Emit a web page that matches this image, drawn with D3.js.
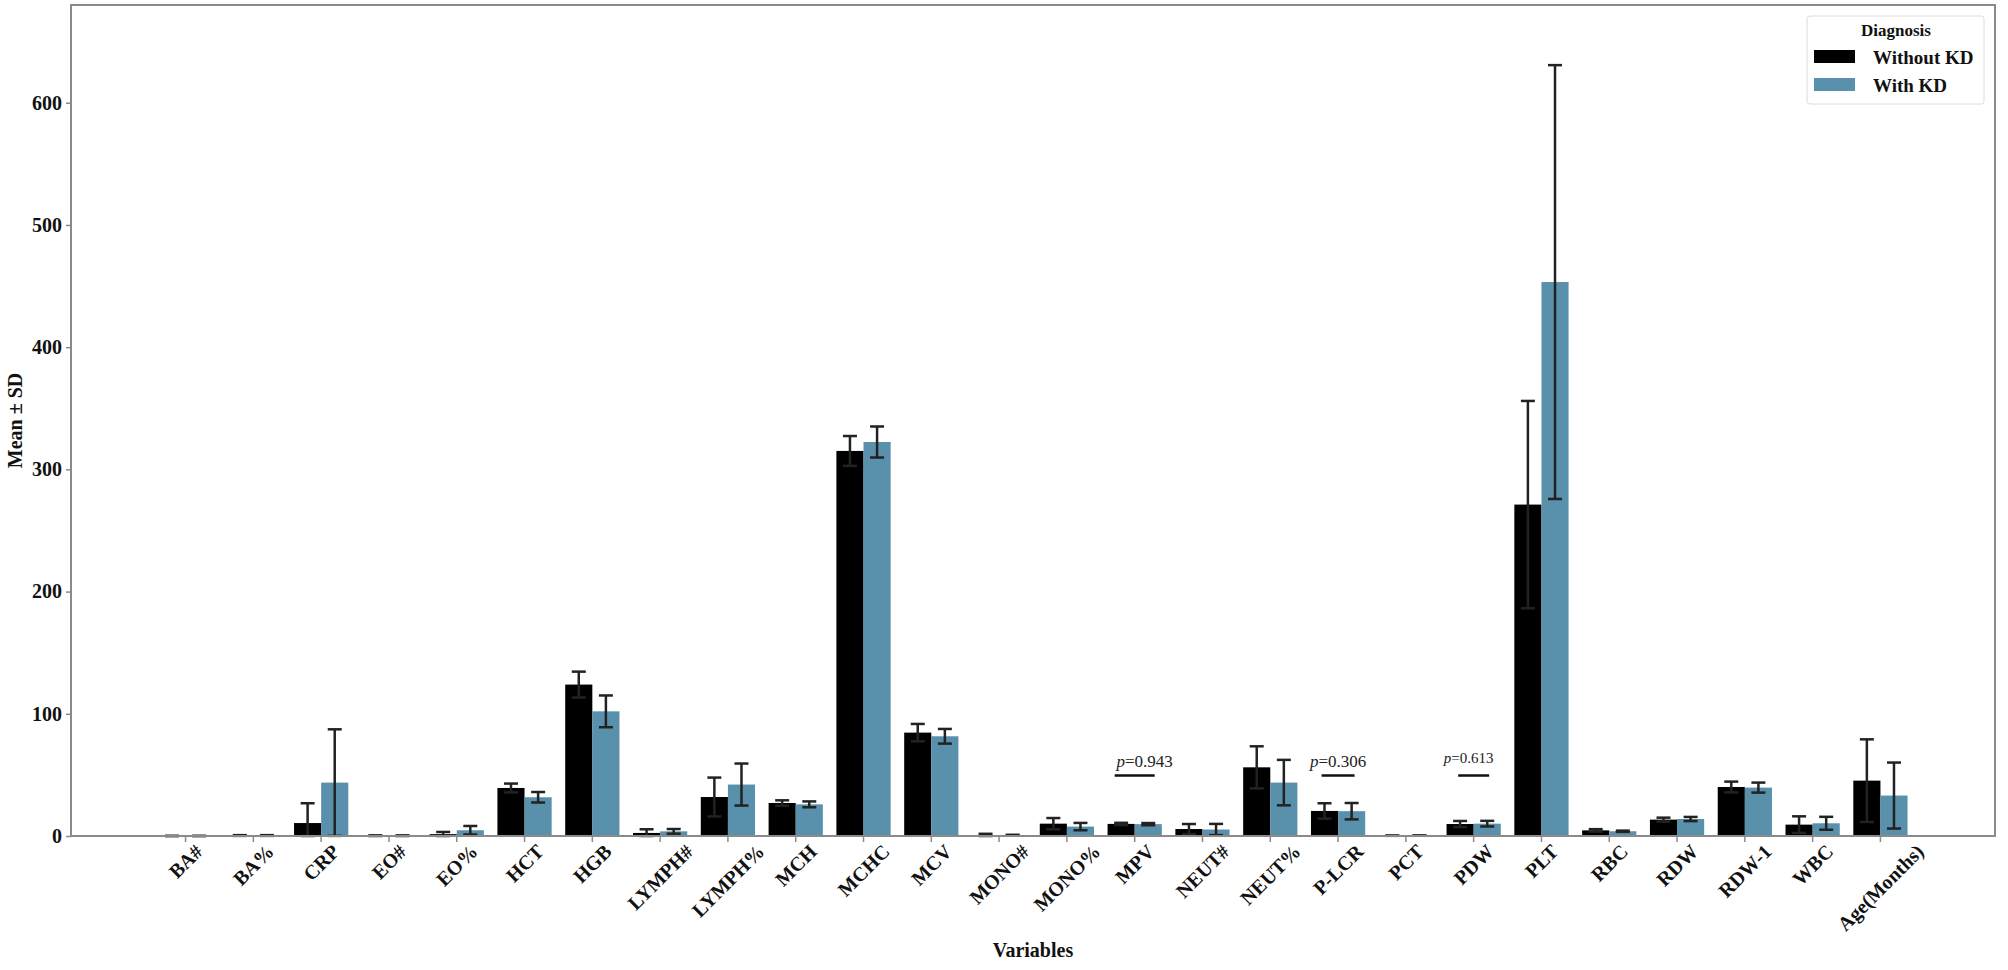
<!DOCTYPE html>
<html>
<head>
<meta charset="utf-8">
<script src="https://cdn.jsdelivr.net/npm/d3@7"></script>
<style>
  html, body { margin: 0; padding: 0; background: #fff; }
  svg { display: block; }
  text { font-family: "Liberation Serif", "Times New Roman", serif; }
</style>
</head>
<body>
<svg id="chart" width="2008" height="970"></svg>
<script>
// ---------------- data ----------------
const categories = ["BA#","BA%","CRP","EO#","EO%","HCT","HGB","LYMPH#","LYMPH%","MCH","MCHC","MCV",
  "MONO#","MONO%","MPV","NEUT#","NEUT%","P-LCR","PCT","PDW","PLT","RBC","RDW","RDW-1","WBC","Age(Months)"];
const seriesNames = ["Without KD", "With KD"];
const withoutKDMean = [0.03, 0.4, 10.6, 0.2, 1.5, 39.3, 123.9, 2.5, 31.9, 27.0, 315.1, 84.6,
  0.8, 10.1, 9.9, 5.7, 56.2, 20.5, 0.25, 9.8, 271.2, 4.6, 13.4, 40.1, 9.3, 45.3];
const withoutKDSD = [0.03, 0.3, 16.2, 0.3, 1.8, 3.6, 10.6, 3.0, 15.9, 2.2, 12.2, 7.1,
  1.0, 4.6, 0.9, 4.1, 17.2, 6.3, 0.1, 2.5, 84.8, 1.0, 1.6, 4.4, 6.8, 33.8];
const withKDMean = [0.03, 0.4, 43.7, 0.2, 4.7, 31.7, 102.0, 3.8, 42.1, 25.9, 322.4, 81.6,
  0.7, 7.7, 9.7, 5.3, 43.7, 20.3, 0.3, 10.1, 453.3, 3.9, 13.9, 39.6, 10.4, 33.1];
const withKDSD = [0.03, 0.3, 43.6, 0.3, 3.5, 4.3, 13.0, 1.9, 17.2, 2.4, 12.7, 6.0,
  0.3, 3.0, 0.9, 4.6, 18.6, 6.7, 0.1, 2.3, 177.5, 0.5, 1.7, 4.1, 5.3, 27.0];
const yTicks = [0, 100, 200, 300, 400, 500, 600];
const pCategories = ["MPV", "P-LCR", "PDW"];
const pValues = ["0.943", "0.306", "0.613"];
const pLineValue = 49.5;
const pTextValues = [56.5, 56.5, 59.5];

// ---------------- layout / style ----------------
const plot = { left: 71, right: 1995, top: 5, bottom: 836 };
const colors = ["#000000", "#5990ab"];
const pStyle = [ {dx: 10, lineHalf: 20, fs: 17}, {dx: 0, lineHalf: 16.5, fs: 17}, {dx: -5, lineHalf: 15.5, fs: 15} ];

const svg = d3.select("#chart");

const x = d3.scaleBand().domain(categories).range([plot.left, plot.right])
  .paddingInner(0).paddingOuter(1.19);
const sub = d3.scaleBand().domain(seriesNames).range([0.1 * x.bandwidth(), 0.9 * x.bandwidth()]);
const y = d3.scaleLinear().domain([0, 680]).range([plot.bottom, plot.top]);

const series = [
  { name: seriesNames[0], mean: withoutKDMean, sd: withoutKDSD, color: colors[0] },
  { name: seriesNames[1], mean: withKDMean, sd: withKDSD, color: colors[1] }
];

// bars
const gBars = svg.append("g");
series.forEach(s => {
  gBars.selectAll(null).data(categories).enter().append("rect")
    .attr("x", (c) => x(c) + sub(s.name))
    .attr("width", sub.bandwidth())
    .attr("y", (c, i) => y(s.mean[i]))
    .attr("height", (c, i) => y(0) - y(s.mean[i]))
    .attr("fill", s.color);
});

// error bars
const gErr = svg.append("g").attr("stroke", "#222").attr("stroke-width", 2.5).attr("fill", "none");
const cap = 7;
series.forEach(s => {
  categories.forEach((c, i) => {
    const cx = x(c) + sub(s.name) + sub.bandwidth() / 2;
    const lo = Math.max(0, s.mean[i] - s.sd[i]);
    const hi = s.mean[i] + s.sd[i];
    gErr.append("line").attr("x1", cx).attr("x2", cx).attr("y1", y(lo)).attr("y2", y(hi));
    gErr.append("line").attr("x1", cx - cap).attr("x2", cx + cap).attr("y1", y(hi)).attr("y2", y(hi));
    gErr.append("line").attr("x1", cx - cap).attr("x2", cx + cap).attr("y1", y(lo)).attr("y2", y(lo));
  });
});

// frame (spines)
svg.append("rect")
  .attr("x", plot.left).attr("y", plot.top)
  .attr("width", plot.right - plot.left).attr("height", plot.bottom - plot.top)
  .attr("fill", "none").attr("stroke", "#8a8a8a").attr("stroke-width", 2);

// y axis
const yAxis = svg.append("g").attr("transform", `translate(${plot.left},0)`)
  .call(d3.axisLeft(y).tickValues(yTicks).tickSize(5).tickPadding(4));
yAxis.select(".domain").remove();
yAxis.selectAll(".tick line").attr("stroke", "#8a8a8a").attr("stroke-width", 1.5);
yAxis.selectAll(".tick text").attr("font-family", "Liberation Serif").attr("font-weight", "bold")
  .attr("font-size", 20).attr("fill", "#111");

// x axis
const xAxis = svg.append("g").attr("transform", `translate(0,${plot.bottom})`)
  .call(d3.axisBottom(x).tickSize(6).tickFormat(""));
xAxis.select(".domain").remove();
xAxis.selectAll(".tick line").attr("stroke", "#8a8a8a").attr("stroke-width", 1.5);

const gLabels = svg.append("g");
categories.forEach(c => {
  const cx = x(c) + x.bandwidth() / 2;
  const t = gLabels.append("text").text(c)
    .attr("font-weight", "bold").attr("font-size", 20).attr("fill", "#111")
    .attr("text-anchor", "middle").attr("dominant-baseline", "central");
  const w = t.node().getComputedTextLength();
  const h = 14;
  const half = (w + h) / (2 * Math.SQRT2);
  const cy = plot.bottom + 7 + half;
  t.attr("transform", `translate(${cx},${cy}) rotate(-45)`);
});

// axis titles
svg.append("text").text("Variables")
  .attr("x", (plot.left + plot.right) / 2).attr("y", 957)
  .attr("text-anchor", "middle").attr("font-weight", "bold").attr("font-size", 20).attr("fill", "#111");
svg.append("text").text("Mean ± SD")
  .attr("transform", `translate(22,${(plot.top + plot.bottom) / 2}) rotate(-90)`)
  .attr("text-anchor", "middle").attr("font-weight", "bold").attr("font-size", 20).attr("fill", "#111");

// p-value annotations
const gP = svg.append("g");
pCategories.forEach((c, i) => {
  const cx = x(c) + x.bandwidth() / 2;
  const st = pStyle[i];
  gP.append("line").attr("x1", cx - st.lineHalf).attr("x2", cx + st.lineHalf)
    .attr("y1", y(pLineValue)).attr("y2", y(pLineValue))
    .attr("stroke", "#111").attr("stroke-width", 2.5);
  const t = gP.append("text").attr("x", cx + st.dx).attr("y", y(pTextValues[i]))
    .attr("text-anchor", "middle").attr("font-size", st.fs).attr("fill", "#222");
  t.append("tspan").attr("font-style", "italic").text("p");
  t.append("tspan").text("=" + pValues[i]);
});

// legend
const lg = svg.append("g").attr("transform", "translate(1807,16)");
lg.append("rect").attr("width", 177).attr("height", 88).attr("rx", 3)
  .attr("fill", "#fff").attr("stroke", "#dcdcdc").attr("stroke-width", 1);
lg.append("text").text("Diagnosis").attr("x", 89).attr("y", 20)
  .attr("text-anchor", "middle").attr("font-weight", "bold").attr("font-size", 17).attr("fill", "#111");
series.forEach((s, i) => {
  lg.append("rect").attr("x", 7).attr("y", 34 + i * 28).attr("width", 41).attr("height", 13)
    .attr("fill", s.color);
  lg.append("text").text(s.name).attr("x", 66).attr("y", 48 + i * 28)
    .attr("font-weight", "bold").attr("font-size", 19).attr("fill", "#111");
});
</script>
</body>
</html>
